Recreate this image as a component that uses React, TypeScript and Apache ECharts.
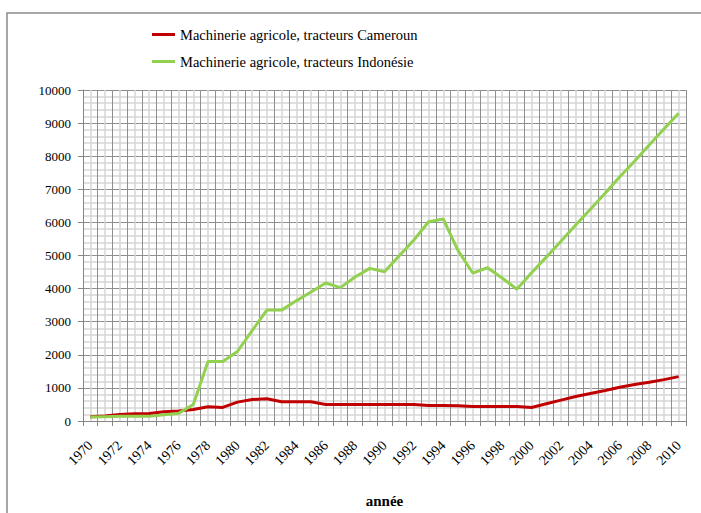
import React, { useEffect, useRef } from "react";
import * as echarts from "echarts";

const years: string[] = [];
for (let y = 1970; y <= 2010; y++) years.push(String(y));

const cameroun = [
  130, 150, 200, 220, 230, 280, 300, 350, 430, 410,
  570, 650, 670, 580, 580, 580, 500, 500, 500, 500,
  500, 500, 500, 470, 470, 460, 440, 440, 440, 440,
  410, 520, 630, 740, 830, 920, 1020, 1100, 1170, 1250,
  1340,
];

const indonesie = [
  120, 130, 140, 140, 140, 190, 230, 500, 1800, 1800,
  2100, 2730, 3350, 3350, 3630, 3900, 4170, 4030, 4350, 4610,
  4510, 4990, 5470, 6020, 6100, 5150, 4470, 4630, 4320, 3980,
  4480, 4950, 5430, 5920, 6400, 6880, 7380, 7850, 8340, 8820,
  9300,
];

const seriesNames = [
  "Machinerie agricole, tracteurs Cameroun",
  "Machinerie agricole, tracteurs Indonésie",
];

const xTitle = "année";

const FONT = "Liberation Serif";
const MAJOR = "#8f8f8f";
const MINOR = "#d6d6d6";
const LEGEND_ICON = "path://M0,0 L23,0 L23,3 L0,3 Z";

export default function App() {
  const ref = useRef<HTMLDivElement>(null);

  useEffect(() => {
    if (!ref.current) return;
    const chart = echarts.init(ref.current, null, { renderer: "svg" });
    chart.setOption({
      animation: false,
      backgroundColor: "#ffffff",
      textStyle: { fontFamily: FONT },
      graphic: [
        {
          type: "rect",
          shape: { x: 7, y: 13, width: 720, height: 520 },
          style: { fill: "none", stroke: "#8a8a8a", lineWidth: 1.5 },
          silent: true,
        },
      ],
      legend: {
        orient: "vertical",
        left: 147,
        top: 22,
        itemWidth: 23,
        itemHeight: 3,
        itemGap: 12,
        textStyle: { fontFamily: FONT, fontSize: 14.5, color: "#000" },
        data: seriesNames.map((n) => ({ name: n, icon: LEGEND_ICON })),
      },
      grid: { left: 83, top: 90, width: 603, height: 333, containLabel: false },
      xAxis: [
        {
          type: "category",
          data: years,
          boundaryGap: true,
          axisLine: { lineStyle: { color: "#868686", width: 1 } },
          axisTick: { show: true, interval: 0, length: 5, lineStyle: { color: "#868686" } },
          axisLabel: {
            interval: 1,
            rotate: 45,
            fontFamily: FONT,
            fontSize: 14,
            color: "#000",
            margin: 22,
          },
          splitLine: { show: false },
          name: xTitle,
          nameLocation: "middle",
          nameGap: 72,
          nameTextStyle: { fontFamily: FONT, fontSize: 15, fontWeight: "bold", color: "#000" },
        },
        {
          type: "value",
          min: 0,
          max: 41,
          interval: 1,
          position: "bottom",
          axisLine: { show: false },
          axisTick: { show: false },
          axisLabel: { show: false },
          splitLine: { show: true, lineStyle: { color: MAJOR, width: 1 } },
          minorTick: { show: false, splitNumber: 2 },
          minorSplitLine: { show: true, lineStyle: { color: MINOR, width: 1.5 } },
        },
      ],
      yAxis: {
        type: "value",
        min: 0,
        max: 10000,
        interval: 1000,
        axisLine: { show: true, lineStyle: { color: "#868686" } },
        axisTick: { show: true, length: 5, lineStyle: { color: "#868686" } },
        axisLabel: {
          fontFamily: FONT,
          fontSize: 13,
          color: "#000",
          margin: 12,
          formatter: (v: number) => String(v),
        },
        splitLine: { show: true, lineStyle: { color: MAJOR, width: 1 } },
        minorTick: { show: false, splitNumber: 5 },
        minorSplitLine: { show: true, lineStyle: { color: MINOR, width: 1.5 } },
      },
      series: [
        {
          name: seriesNames[0],
          type: "line",
          xAxisIndex: 0,
          data: cameroun,
          symbol: "none",
          color: "#c00000",
          lineStyle: { color: "#c00000", width: 3 },
          z: 3,
        },
        {
          name: seriesNames[1],
          type: "line",
          xAxisIndex: 0,
          data: indonesie,
          symbol: "none",
          color: "#92d050",
          lineStyle: { color: "#92d050", width: 3 },
          z: 4,
        },
      ],
    });
    return () => chart.dispose();
  }, []);

  return (
    <div
      ref={ref}
      style={{ position: "fixed", left: 0, top: 0, width: 701, height: 513 }}
    />
  );
}
